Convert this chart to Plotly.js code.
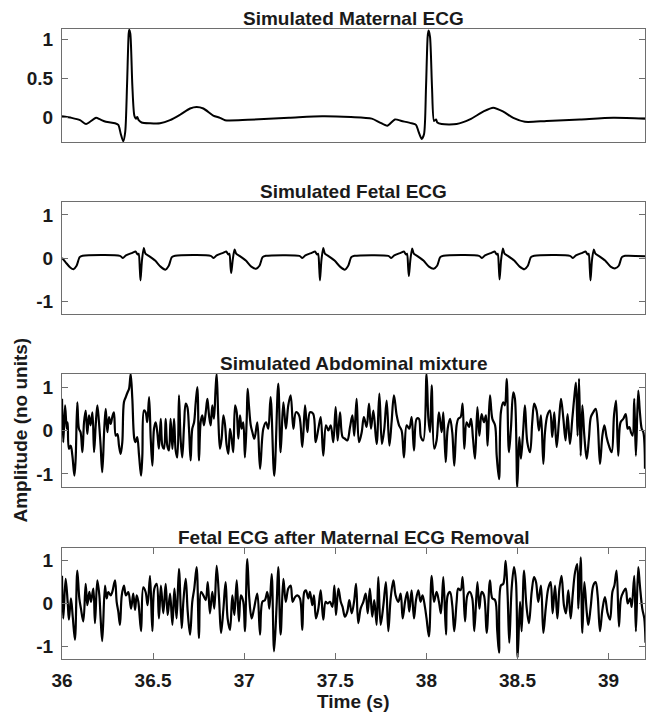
<!DOCTYPE html>
<html>
<head>
<meta charset="utf-8">
<script src="https://cdn.plot.ly/plotly-3.0.1.min.js"></script>
<style>html,body{margin:0;padding:0;background:#fff;}#chart{width:647px;height:714px;}</style>
</head>
<body>
<div id="chart"></div>
<script>
// ---------- data ----------
var panelTitles = ["Simulated Maternal ECG", "Simulated Fetal ECG", "Simulated Abdominal mixture", "Fetal ECG after Maternal ECG Removal"];
var xTickVals = [36, 36.5, 37, 37.5, 38, 38.5, 39];
var xTickText = ["36", "36.5", "37", "37.5", "38", "38.5", "39"];
var yTickVals1 = [0, 0.5, 1];
var yTickText1 = ["0", "0.5", "1"];
var yTickVals = [-1, 0, 1];
var yTickText = ["-1", "0", "1"];
var xLabel = "Time (s)";
var yLabel = "Amplitude (no units)";

var maternalT = [36.000,36.053,36.099,36.132,36.154,36.187,36.209,36.241,36.291,36.309,
 36.322,36.336,36.347,36.357,36.366,36.369,36.375,36.386,36.397,36.406,
 36.413,36.421,36.437,36.483,36.538,36.593,36.648,36.703,36.739,36.776,
 36.830,36.867,36.895,37.020,37.246,37.428,37.586,37.700,37.745,37.785,
 37.828,37.864,37.919,37.943,37.956,37.974,37.987,37.998,38.007,38.012,
 38.020,38.031,38.042,38.053,38.060,38.084,38.166,38.239,38.312,38.367,
 38.422,38.477,38.541,38.660,38.843,39.026,39.200];
var maternalV = [0.01,-0.01,-0.04,-0.09,-0.06,-0.01,-0.03,-0.06,-0.08,-0.10,
 -0.21,-0.31,-0.19,0.41,1.07,1.12,1.07,0.41,0.02,-0.02,
 0.00,-0.04,-0.07,-0.08,-0.08,-0.04,0.03,0.11,0.13,0.11,
 0.02,-0.01,-0.04,-0.035,-0.01,0.01,0.00,-0.02,-0.07,-0.11,
 -0.03,-0.05,-0.08,-0.10,-0.18,-0.28,-0.22,0.38,1.03,1.11,
 1.03,0.38,-0.05,-0.03,-0.07,-0.09,-0.09,-0.03,0.07,0.12,
 0.07,-0.01,-0.06,-0.05,-0.03,-0.01,-0.02];

var fetalT = [36.000,36.020,36.045,36.063,36.080,36.097,36.113,
 36.318,36.334,36.351,36.386,36.404,36.415,36.421,36.427,36.431,36.439,36.449,36.458,36.476,36.511,36.541,36.567,36.586,36.603,36.621,
 36.816,36.832,36.849,36.884,36.902,36.913,36.919,36.925,36.929,36.937,36.947,36.956,36.974,37.009,37.039,37.065,37.084,37.101,37.119,
 37.303,37.319,37.336,37.371,37.389,37.400,37.406,37.412,37.416,37.424,37.434,37.443,37.461,37.496,37.526,37.552,37.571,37.588,37.606,
 37.791,37.807,37.824,37.859,37.877,37.888,37.894,37.900,37.904,37.912,37.922,37.931,37.949,37.984,38.014,38.040,38.059,38.076,38.094,
 38.289,38.305,38.322,38.357,38.375,38.386,38.392,38.398,38.402,38.410,38.420,38.429,38.447,38.482,38.512,38.538,38.557,38.574,38.592,
 38.788,38.804,38.821,38.856,38.874,38.885,38.891,38.897,38.901,38.909,38.919,38.928,38.946,38.981,39.011,39.037,39.056,39.073,39.091,39.200];
var fetalV = [0.00,-0.10,-0.22,-0.26,-0.18,0.02,0.05,
 0.05,0.00,0.06,0.12,0.15,0.08,0.10,-0.25,-0.52,-0.05,0.23,0.10,0.05,-0.06,-0.20,-0.27,-0.18,0.02,0.05,
 0.05,0.00,0.06,0.12,0.15,0.08,0.10,-0.20,-0.35,-0.05,0.20,0.10,0.05,-0.06,-0.20,-0.25,-0.18,0.02,0.05,
 0.05,0.00,0.06,0.12,0.15,0.08,0.10,-0.25,-0.52,-0.05,0.23,0.10,0.05,-0.06,-0.20,-0.27,-0.18,0.02,0.05,
 0.05,0.00,0.06,0.12,0.15,0.08,0.10,-0.22,-0.42,-0.05,0.22,0.10,0.05,-0.06,-0.20,-0.25,-0.18,0.02,0.05,
 0.05,0.00,0.06,0.12,0.15,0.08,0.10,-0.25,-0.50,-0.05,0.22,0.10,0.05,-0.06,-0.20,-0.26,-0.18,0.02,0.05,
 0.05,0.00,0.06,0.12,0.15,0.08,0.10,-0.25,-0.52,-0.05,0.20,0.10,0.05,-0.06,-0.20,-0.24,-0.18,0.02,0.05,0.04];

var mixT = [36.000,36.007,36.017,36.026,36.031,36.038,36.048,36.057,36.068,36.075,
 36.084,36.093,36.102,36.112,36.121,36.130,36.139,36.148,36.157,36.167,
 36.176,36.185,36.194,36.203,36.212,36.221,36.232,36.240,36.249,36.258,
 36.267,36.276,36.285,36.295,36.304,36.313,36.322,36.331,36.340,36.350,
 36.360,36.368,36.377,36.386,36.397,36.404,36.413,36.423,36.434,36.441,
 36.450,36.459,36.468,36.478,36.487,36.496,36.505,36.514,36.523,36.532,
 36.542,36.551,36.560,36.569,36.578,36.587,36.596,36.606,36.615,36.624,
 36.633,36.642,36.651,36.660,36.670,36.679,36.688,36.697,36.706,36.715,
 36.725,36.734,36.743,36.752,36.761,36.770,36.779,36.789,36.798,36.807,
 36.816,36.825,36.834,36.843,36.849,36.858,36.867,36.876,36.886,36.895,
 36.904,36.913,36.922,36.931,36.940,36.950,36.959,36.968,36.977,36.986,
 36.995,37.004,37.014,37.019,37.026,37.036,37.045,37.056,
 37.072,37.087,37.105,37.120,37.132,37.145,37.165,37.187,37.200,37.215,
 37.229,37.242,37.255,37.270,37.284,37.301,37.319,37.334,37.347,37.361,
 37.379,37.392,37.407,37.420,37.434,37.449,37.462,37.475,37.489,37.502,
 37.513,37.526,37.540,37.553,37.566,37.581,37.594,37.604,37.617,37.630,
 37.645,37.657,37.672,37.685,37.696,37.709,37.727,37.742,37.756,37.769,
 37.782,37.797,37.809,37.822,37.837,37.850,37.864,37.877,37.892,37.906,
 37.919,37.932,37.947,37.959,37.970,37.983,38.001,38.011,38.020,38.029,
 38.043,38.056,38.069,38.084,38.093,38.106,
 38.117,38.130,38.142,38.153,38.166,38.175,38.188,38.199,38.208,38.221,
 38.234,38.245,38.256,38.267,38.280,38.291,38.303,38.316,38.327,38.336,
 38.349,38.362,38.377,38.386,38.399,38.409,38.422,38.431,38.441,38.453,
 38.464,38.477,38.486,38.499,38.510,38.519,38.532,38.541,38.554,38.569,
 38.581,38.592,38.605,38.618,38.629,38.642,38.651,38.664,38.678,38.691,
 38.702,38.715,38.728,38.739,38.752,38.764,38.775,38.788,38.801,38.812,
 38.821,38.830,38.838,38.847,38.856,38.867,38.880,38.892,38.903,38.916,
 38.929,38.940,38.953,38.966,38.977,38.989,39.002,39.017,39.030,39.041,
 39.053,39.066,39.081,39.094,39.105,39.114,39.123,39.132,39.141,39.150,
 39.163,39.172,39.182,39.191,39.200];
var mixV = [0.73,-0.27,0.58,0.04,0.19,-0.42,-0.35,-0.58,-1.04,-0.65,
 0.65,0.04,-0.04,-0.50,0.19,0.46,-0.08,0.35,0.12,0.42,
 -0.50,0.12,0.58,0.19,-0.35,-0.96,0.04,0.50,-0.04,0.31,
 0.15,0.31,0.42,-0.12,-0.08,-0.35,-0.54,-0.27,0.65,0.77,
 0.88,0.96,1.30,0.73,-0.19,-0.27,-0.15,-0.58,-1.04,-0.58,
 0.46,0.42,0.19,0.77,-0.19,-0.81,0.04,0.19,-0.04,-0.42,
 0.27,-0.35,-0.42,0.27,-0.35,-0.46,0.27,-0.42,0.27,-0.46,
 -0.62,0.81,-0.19,-0.62,0.12,0.62,0.54,0.04,-0.69,0.04,
 0.19,0.65,1.00,-0.69,0.19,0.35,0.12,0.42,0.73,0.35,
 0.12,0.58,0.27,0.96,1.30,0.27,-0.42,-0.19,0.35,0.12,
 -0.35,-0.54,0.04,-0.19,-0.50,0.58,0.42,-0.19,0.35,0.04,
 0.19,-0.62,0.27,0.96,0.58,0.12,-0.04,-0.19,
 0.19,-0.88,0.04,0.19,0.04,0.77,-1.04,1.08,-0.50,0.65,
 0.04,0.58,0.81,0.04,0.42,0.35,-0.38,0.58,-0.04,0.42,
 0.38,-0.27,0.04,0.31,-0.58,0.12,0.00,0.12,-0.27,0.54,
 -0.23,0.42,-0.15,-0.19,-0.23,0.08,0.35,-0.12,0.73,-0.27,
 -0.04,0.31,0.08,0.62,0.04,0.46,-0.31,0.85,-0.31,0.04,
 0.69,-0.35,0.19,0.81,0.35,0.12,0.00,-0.62,0.12,0.04,
 0.31,-0.46,0.27,0.27,-0.15,-0.23,1.30,0.27,-0.04,1.04,
 -0.42,-0.23,0.42,-0.04,0.42,-0.73,
 0.04,0.27,-0.04,-0.81,0.12,0.27,0.31,0.62,-0.42,0.19,
 0.08,0.27,-0.19,-0.65,0.54,-0.12,0.38,0.19,0.35,-0.35,
 0.81,0.27,0.12,-0.58,-1.12,0.42,0.65,0.58,1.19,-0.50,
 0.04,0.88,0.73,-1.30,-0.15,-0.65,0.04,0.58,-0.27,-0.50,
 0.19,0.62,0.46,0.00,0.35,-0.77,-0.04,0.35,0.46,-0.15,
 0.42,-0.38,0.23,0.73,0.27,-0.23,0.38,-0.31,0.27,0.77,
 1.10,-0.12,1.19,-0.58,0.58,-0.12,-0.65,-0.19,0.31,0.42,
 0.50,0.19,-0.77,-0.12,0.12,-0.15,-0.35,-0.50,0.35,0.69,
 -0.58,0.19,0.27,0.38,0.04,0.08,-0.04,-0.12,0.73,-0.58,
 0.92,0.42,0.04,-0.04,-0.88];

var cleanT = [36.000,36.007,36.020,36.031,36.038,36.049,36.059,36.071,36.084,36.095,
 36.104,36.117,36.130,36.139,36.150,36.159,36.172,36.181,36.194,36.205,
 36.212,36.221,36.236,36.245,36.254,36.267,36.276,36.291,36.300,36.309,
 36.318,36.328,36.340,36.351,36.364,36.379,36.391,36.401,36.410,36.419,
 36.434,36.446,36.459,36.470,36.483,36.496,36.507,36.520,36.532,36.543,
 36.556,36.569,36.580,36.593,36.606,36.617,36.629,36.642,36.657,36.666,
 36.679,36.690,36.703,36.715,36.726,36.739,36.752,36.763,36.776,36.789,
 36.800,36.812,36.825,36.836,36.849,36.862,36.873,36.886,36.898,36.909,
 36.922,36.935,36.946,36.959,36.971,36.982,36.995,37.004,37.017,37.028,
 37.041,37.054,
 37.072,37.087,37.100,37.114,37.127,37.138,37.151,37.164,37.178,37.187,
 37.200,37.215,37.228,37.242,37.255,37.266,37.279,37.292,37.306,37.319,
 37.330,37.339,37.352,37.361,37.374,37.383,37.394,37.407,37.420,37.434,
 37.447,37.458,37.471,37.484,37.495,37.504,37.517,37.530,37.540,37.553,
 37.566,37.577,37.590,37.603,37.614,37.626,37.639,37.654,37.667,37.678,
 37.690,37.703,37.714,37.727,37.736,37.749,37.764,37.778,37.791,37.804,
 37.819,37.831,37.846,37.859,37.870,37.883,37.895,37.906,37.919,37.932,
 37.943,37.956,37.968,37.979,37.992,38.001,38.014,38.029,38.042,38.056,
 38.069,38.080,38.093,38.108,
 38.117,38.130,38.142,38.153,38.166,38.175,38.188,38.199,38.212,38.225,
 38.239,38.252,38.263,38.280,38.291,38.303,38.316,38.331,38.349,38.362,
 38.377,38.389,38.399,38.409,38.422,38.435,38.446,38.455,38.468,38.481,
 38.492,38.501,38.514,38.523,38.536,38.549,38.563,38.578,38.591,38.602,
 38.614,38.629,38.642,38.655,38.669,38.682,38.693,38.706,38.719,38.730,
 38.742,38.755,38.766,38.779,38.792,38.803,38.816,38.828,38.834,38.847,
 38.856,38.867,38.880,38.889,38.902,38.916,38.929,38.940,38.953,38.966,
 38.980,38.995,39.008,39.021,39.032,39.044,39.057,39.068,39.081,39.094,
 39.105,39.118,39.127,39.141,39.150,39.163,39.172,39.185,39.196,39.203];
var cleanV = [0.65,-0.35,0.58,0.04,-0.38,0.12,-0.31,-0.85,0.77,0.12,
 -0.12,-0.42,0.46,-0.04,0.27,0.04,0.35,-0.46,0.54,0.19,
 -0.35,-0.88,0.42,0.12,0.27,0.19,0.27,0.54,0.04,-0.19,
 -0.50,0.19,0.42,0.19,0.27,-0.12,0.23,-0.15,0.19,0.04,
 -0.65,0.38,0.27,-0.04,0.65,-0.65,0.35,0.46,-0.35,0.42,
 -0.23,0.46,-0.27,0.23,-0.50,0.35,-0.35,0.81,-0.58,0.04,
 0.58,-0.19,-0.73,0.04,0.35,0.85,-0.81,0.27,0.19,0.08,
 0.50,-0.23,0.27,-0.12,0.88,0.12,-0.69,-0.12,0.50,-0.35,
 -0.62,0.19,-0.27,0.54,-0.42,0.19,0.04,-0.65,1.04,0.12,
 -0.35,-0.12,
 0.23,-0.73,0.04,0.08,0.27,-0.12,0.69,-1.12,-0.04,0.85,
 -0.73,0.58,0.04,0.35,0.42,0.04,0.15,0.19,0.12,-0.62,
 0.27,0.31,0.12,0.27,-0.04,0.19,-0.35,-0.12,0.31,-0.38,
 0.04,0.00,0.04,-0.08,0.42,-0.27,0.35,0.04,-0.08,-0.31,
 -0.19,0.08,-0.23,0.04,0.46,-0.46,-0.12,0.04,0.23,-0.23,
 0.35,-0.31,0.08,-0.50,0.62,-0.50,-0.04,0.50,-0.65,0.12,
 0.54,0.19,0.04,0.23,-0.35,0.04,0.27,-0.19,0.31,-0.35,
 0.08,0.31,0.04,0.19,-0.08,-0.35,-0.77,0.65,0.04,0.27,
 0.04,-0.23,0.62,-0.73,
 0.19,0.27,-0.04,-0.65,0.04,0.35,0.31,0.62,-0.42,0.19,
 0.27,0.12,-0.65,0.50,-0.12,0.27,0.19,-0.69,0.54,0.12,
 0.08,-0.65,-1.15,0.42,0.46,1.00,0.19,-0.92,0.35,0.85,
 0.50,-1.27,0.04,-0.65,0.77,-0.04,-0.46,0.27,0.62,0.50,
 0.04,0.42,-0.69,-0.12,0.35,0.50,-0.23,0.42,-0.35,0.35,
 0.65,-0.04,-0.23,0.31,-0.35,0.19,0.73,0.92,-0.12,1.08,
 -0.69,0.50,-0.19,-0.50,-0.08,0.42,0.50,0.19,-0.65,-0.15,
 0.15,-0.23,-0.38,0.27,0.42,0.77,-0.54,0.12,0.27,0.35,
 0.00,0.12,-0.08,0.65,-0.65,0.85,0.42,-0.12,-0.35,-0.92];

// ---------- drawing ----------
var FONT = "Liberation Sans, Arial, Helvetica, sans-serif";
var FS = 19;
var AXC = "#6e6e6e";
var seriesT = [maternalT, fetalT, mixT, cleanT];
var seriesV = [maternalV, fetalV, mixV, cleanV];
var yRanges = [[-0.32, 1.13], [-1.3, 1.3], [-1.3, 1.3], [-1.3, 1.3]];
var domains = [[0.8206, 1.0], [0.5476, 0.7254], [0.2730, 0.4524], [0.0, 0.1762]];
var lineWidths = [2, 2, 2.2, 2.2];
var smooth = [0.7, 0.7, 1.0, 1.0];

var traces = [];
for (var i = 0; i < 4; i++) {
  traces.push({
    x: seriesT[i], y: seriesV[i], type: "scatter", mode: "lines",
    xaxis: i === 0 ? "x" : "x" + (i + 1), yaxis: i === 0 ? "y" : "y" + (i + 1),
    line: {color: "#000", width: lineWidths[i], shape: "spline", smoothing: smooth[i]},
    hoverinfo: "skip", showlegend: false
  });
}

var layout = {
  width: 647, height: 714,
  margin: {l: 62, r: 2, t: 29, b: 55, pad: 0},
  paper_bgcolor: "#fff", plot_bgcolor: "#fff",
  font: {family: FONT, size: FS, color: "#1a1a1a"},
  showlegend: false,
  annotations: []
};

for (var k = 0; k < 4; k++) {
  var xa = k === 0 ? "xaxis" : "xaxis" + (k + 1);
  var ya = k === 0 ? "yaxis" : "yaxis" + (k + 1);
  var yid = k === 0 ? "y" : "y" + (k + 1);
  var xid = k === 0 ? "x" : "x" + (k + 1);
  var last = (k === 3);
  layout[xa] = {
    anchor: yid, domain: [0, 1], range: [36, 39.2],
    showline: true, linecolor: AXC, linewidth: 1, mirror: last ? "ticks" : true,
    showgrid: false, zeroline: false,
    ticks: last ? "inside" : "", ticklen: 6, tickcolor: AXC, tickwidth: 1,
    tickvals: xTickVals, ticktext: xTickText,
    showticklabels: last,
    tickfont: {family: FONT, size: FS, color: "#1a1a1a", weight: "bold"},
    ticklabelstandoff: 4
  };
  layout[ya] = {
    anchor: xid, domain: domains[k], range: yRanges[k],
    showline: true, linecolor: AXC, linewidth: 1, mirror: "ticks",
    showgrid: false, zeroline: false,
    ticks: "inside", ticklen: 6, tickcolor: AXC, tickwidth: 1,
    tickvals: k === 0 ? yTickVals1 : yTickVals,
    ticktext: k === 0 ? yTickText1 : yTickText,
    tickfont: {family: FONT, size: FS, color: "#1a1a1a", weight: "bold"},
    ticklabelstandoff: 4
  };
  layout.annotations.push({
    text: "<b>" + panelTitles[k] + "</b>", xref: "paper", yref: "paper",
    x: 0.5, y: domains[k][1], xanchor: "center", yanchor: "bottom", yshift: -2,
    showarrow: false, font: {family: FONT, size: FS, color: "#1a1a1a"}
  });
}
layout.annotations.push({
  text: "<b>" + xLabel + "</b>", xref: "paper", yref: "paper",
  x: 0.5, y: -0.068, xanchor: "center", yanchor: "middle",
  showarrow: false, font: {family: FONT, size: FS, color: "#1a1a1a"}
});
layout.annotations.push({
  text: "<b>" + yLabel + "</b>", xref: "paper", yref: "paper",
  x: -0.072, y: (domains[2][0] + domains[2][1]) / 2, xanchor: "center", yanchor: "middle",
  textangle: -90, showarrow: false, font: {family: FONT, size: FS, color: "#1a1a1a"}
});

Plotly.newPlot("chart", traces, layout, {staticPlot: true, displayModeBar: false});
</script>
</body>
</html>
